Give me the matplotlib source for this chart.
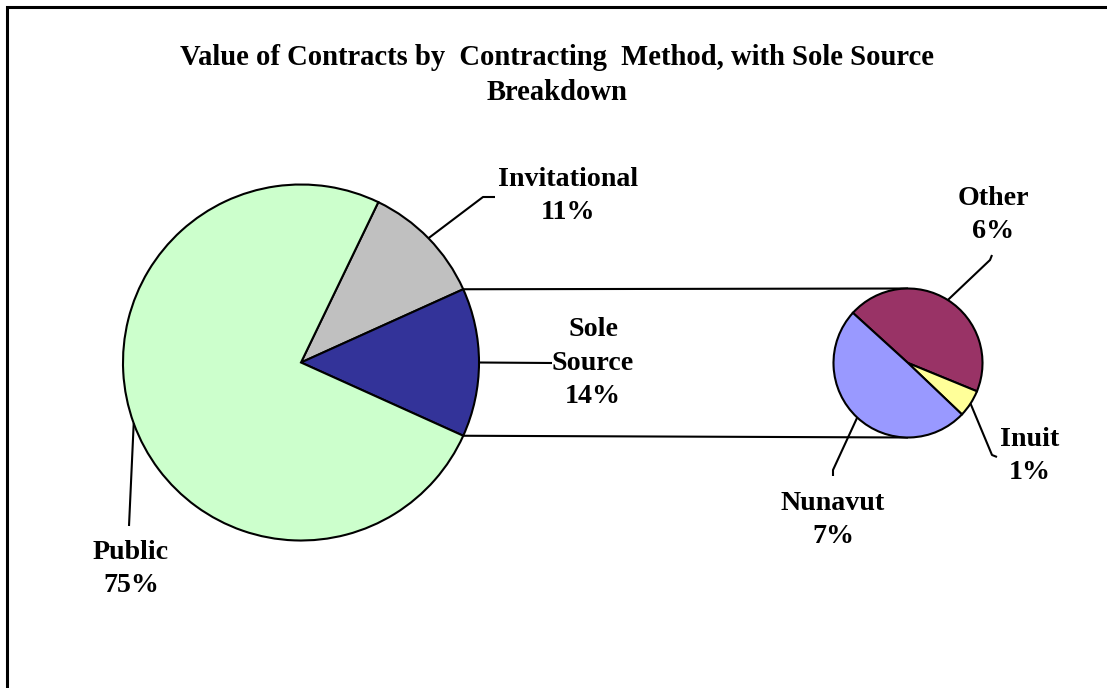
import math
import matplotlib
matplotlib.use("Agg")
import matplotlib.pyplot as plt

# ---- data ----
main_labels = ["Invitational", "Sole Source", "Public"]
main_values = [11.1, 13.5, 75.4]
main_colors = ["#C0C0C0", "#333399", "#CCFFCC"]

sub_labels = ["Other", "Inuit", "Nunavut"]
sub_values = [6.0, 0.8, 6.7]
sub_colors = ["#993366", "#FFFF99", "#9999FF"]

title = "Value of Contracts by  Contracting  Method, with Sole Source\nBreakdown"

W, H = 1107, 688
fig = plt.figure(figsize=(W / 100, H / 100), dpi=100)
ax = fig.add_axes([0, 0, 1, 1])

def P(x, y):
    return (x, H - y)

FAM = ["Liberation Serif", "DejaVu Serif"]
FONT = dict(family=FAM, weight="bold", fontsize=20.2)
TFONT = dict(family=FAM, weight="bold", fontsize=20.6)
EDGE = dict(edgecolor="black", linewidth=1.5)

def pct(v):
    return f"{int(math.floor(v + 0.5))}%"

# main pie
main_c = P(301, 362.5)
main_r = 178
start_main = (main_values[0] + main_values[1] / 2) / sum(main_values) * 360
w_main, _ = ax.pie(main_values, colors=main_colors, startangle=start_main,
                   counterclock=False, center=main_c, radius=main_r,
                   wedgeprops=EDGE, frame=True)

# secondary pie
sub_c = P(908, 363)
sub_r = 74.5
w_sub, _ = ax.pie(sub_values, colors=sub_colors, startangle=137.7,
                  counterclock=False, center=sub_c, radius=sub_r,
                  wedgeprops=EDGE, frame=True)
for w in w_sub:
    w.set_zorder(3)

# connector lines
ss = w_main[1]
for th, dy in ((ss.theta2, 1), (ss.theta1, -1)):
    x0 = main_c[0] + main_r * math.cos(math.radians(th))
    y0 = main_c[1] + main_r * math.sin(math.radians(th))
    ax.plot([x0, sub_c[0]], [y0, sub_c[1] + dy * sub_r], color="black",
            lw=1.5, zorder=2, solid_capstyle="butt")

def edge_mid(w, c, r):
    t = math.radians((w.theta1 + w.theta2) / 2)
    return (c[0] + r * math.cos(t), c[1] + r * math.sin(t))

# labels: (wedge, center, radius, label text, value, leader elbow pts, text pos)
label_layout = [
    (w_main[0], main_c, main_r, "Invitational", main_values[0], [(483, 197), (495, 197)], (568, 196)),
    (w_main[1], main_c, main_r, "Sole\nSource", main_values[1], [(552, 363)], (593, 363)),
    (w_main[2], main_c, main_r, "Public", main_values[2], [(129, 526)], (131, 569)),
    (w_sub[0], sub_c, sub_r, "Other", sub_values[0], [(990, 260), (992, 255)], (993, 215)),
    (w_sub[1], sub_c, sub_r, "Inuit", sub_values[1], [(992, 455), (997, 457)], (1030, 456)),
    (w_sub[2], sub_c, sub_r, "Nunavut", sub_values[2], [(833, 470), (833, 476)], (833, 520)),
]
for w, c, r, name, v, elbows, tpos in label_layout:
    pts = [edge_mid(w, c, r)] + [P(*e) for e in elbows]
    ax.plot([p[0] for p in pts], [p[1] for p in pts], color="black", lw=1.5,
            zorder=4, solid_capstyle="butt")
    ax.text(*P(*tpos), f"{name}\n{pct(v)}", ha="center", va="center",
            linespacing=1.45, zorder=5, **FONT)

ax.text(*P(557, 75), title, ha="center", va="center", linespacing=1.4, **TFONT)

# frame border
ax.plot([7, 7, W], [0, H - 7, H - 7], color="black", lw=2.2, clip_on=False,
        solid_joinstyle="miter")

ax.set_xlim(0, W)
ax.set_ylim(0, H)
ax.set_aspect("equal")
ax.axis("off")
fig.savefig("out.png", dpi=100)
